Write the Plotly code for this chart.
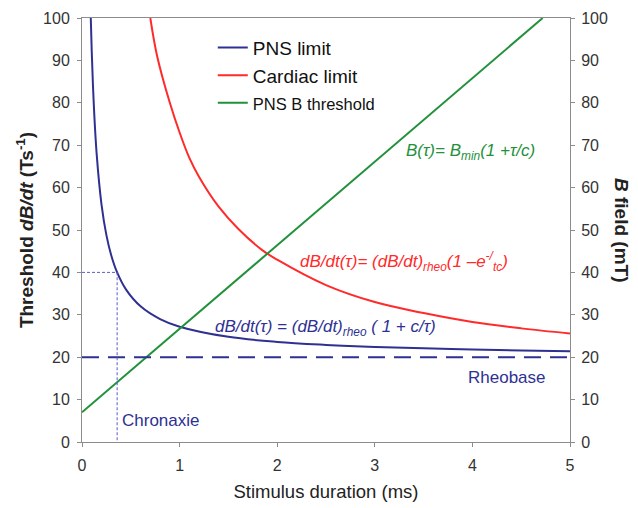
import plotly.graph_objects as go

# ---- data ----
pns_tau = [0.09, 0.10, 0.12, 0.15, 0.20, 0.25, 0.30, 0.36, 0.45, 0.60, 0.80, 1.0, 1.5, 2.0, 2.5, 3.0, 3.5, 4.0, 4.5, 5.0]
pns_val = [100, 92, 80, 68, 56, 48.8, 44, 40, 36, 32, 29, 27.2, 24.8, 23.6, 22.9, 22.4, 22.1, 21.8, 21.6, 21.4]

card_tau = [0.70, 0.77, 0.9, 1.0, 1.1, 1.2, 1.4, 1.6, 1.85, 2.0, 2.5, 3.0, 3.5, 4.0, 4.5, 5.0]
card_val = [100, 91, 80, 73, 67, 62.5, 55.5, 50.3, 45.2, 43, 37, 33, 30.4, 28.3, 26.8, 25.6]

bthr_tau = [0.0, 4.72]
bthr_val = [7.0, 100.0]

rheobase = 20
chronaxie_tau = 0.36
chronaxie_val = 40

x_ticks = [0, 1, 2, 3, 4, 5]
y_ticks = [0, 10, 20, 30, 40, 50, 60, 70, 80, 90, 100]

BLUE = "#2e3192"
RED = "#ff2a2a"
GREEN = "#23913c"
LBLUE = "#5a5ad0"
FONT = "Liberation Sans, Arial, sans-serif"

fig = go.Figure()
fig.add_trace(go.Scatter(x=pns_tau, y=pns_val, mode="lines", name="PNS limit",
                         line=dict(color=BLUE, width=2, shape="spline"), legendgroup="a"))
fig.add_trace(go.Scatter(x=card_tau, y=card_val, mode="lines", name="Cardiac limit",
                         line=dict(color=RED, width=2, shape="spline"), legendgroup="b"))
fig.add_trace(go.Scatter(x=bthr_tau, y=bthr_val, mode="lines",
                         name="<span style='font-size:16.5px'>PNS B threshold</span>",
                         line=dict(color=GREEN, width=2), legendgroup="c"))
# rheobase dashed line
fig.add_trace(go.Scatter(x=[x_ticks[0], x_ticks[-1]], y=[rheobase, rheobase], mode="lines",
                         line=dict(color=BLUE, width=2, dash="17px,9px"), showlegend=False))
# chronaxie guide lines
fig.add_trace(go.Scatter(x=[0, chronaxie_tau, chronaxie_tau], y=[chronaxie_val, chronaxie_val, -1.6],
                         mode="lines", line=dict(color=LBLUE, width=1, dash="3px,2px"),
                         showlegend=False, cliponaxis=False))
# invisible trace for the right axis
fig.add_trace(go.Scatter(x=[0], y=[0], yaxis="y2", mode="markers", marker=dict(opacity=0),
                         showlegend=False, hoverinfo="skip"))

axis_common = dict(showgrid=False, zeroline=False, showline=True, linecolor="#8c8c8c", linewidth=1,
                   ticks="outside", ticklen=4, tickcolor="#8c8c8c", automargin=False,
                   tickfont=dict(family=FONT, size=16, color="#333333"))

fig.update_layout(
    width=630, height=500,
    margin=dict(l=74, r=68, t=10, b=66),
    paper_bgcolor="white", plot_bgcolor="white",
    font=dict(family=FONT),
    showlegend=True,
    legend=dict(x=0.268, y=0.975, xanchor="left", yanchor="top", bgcolor="rgba(0,0,0,0)",
                font=dict(family=FONT, size=19, color="#111111"), tracegroupgap=0,
                traceorder="grouped", itemwidth=30),
    xaxis=dict(range=[0, 5], tickvals=x_ticks, mirror=True, ticklabelstandoff=5,
               title=dict(text="Stimulus duration (ms)", font=dict(family=FONT, size=18.5, color="#222222"),
                          standoff=11),
               **axis_common),
    yaxis=dict(range=[0, 100], tickvals=y_ticks, ticklabelstandoff=4,
               title=dict(text="<b>Threshold <i>dB/dt</i> (Ts<sup>-1</sup>)</b>",
                          font=dict(family=FONT, size=19, color="#222222"), standoff=4),
               **axis_common),
    yaxis2=dict(range=[0, 100], tickvals=y_ticks, overlaying="y", side="right", ticklabelstandoff=3,
                **axis_common),
)

fig.add_annotation(text="<b><i>B</i> field (mT)</b>", xref="paper", yref="paper", x=1.1066, y=0.5,
                   xanchor="center", yanchor="middle",
                   textangle=90, showarrow=False, font=dict(family=FONT, size=19, color="#222222"))

ann_font = lambda c: dict(family=FONT, size=17, color=c)
fig.add_annotation(text="<i>B(τ)= B<sub>min</sub>(1 +τ/c)</i>", x=3.98, y=68.5, showarrow=False,
                   font=ann_font(GREEN))
fig.add_annotation(text="<i>dB/dt(τ)= (dB/dt)<sub>rheo</sub>(1 –e<sup>-/</sup><sub>tc</sub>)</i>",
                   x=3.3, y=42.5, showarrow=False, font=ann_font(RED))
fig.add_annotation(text="<i>dB/dt(τ) = (dB/dt)<sub>rheo</sub> ( 1 + c/τ)</i>",
                   x=2.49, y=27, showarrow=False, font=ann_font(BLUE))
fig.add_annotation(text="Rheobase", x=4.35, y=15.3, showarrow=False, font=ann_font(BLUE))
fig.add_annotation(text="Chronaxie", x=0.81, y=5, showarrow=False, font=ann_font(BLUE))

fig.write_html("out.html")
